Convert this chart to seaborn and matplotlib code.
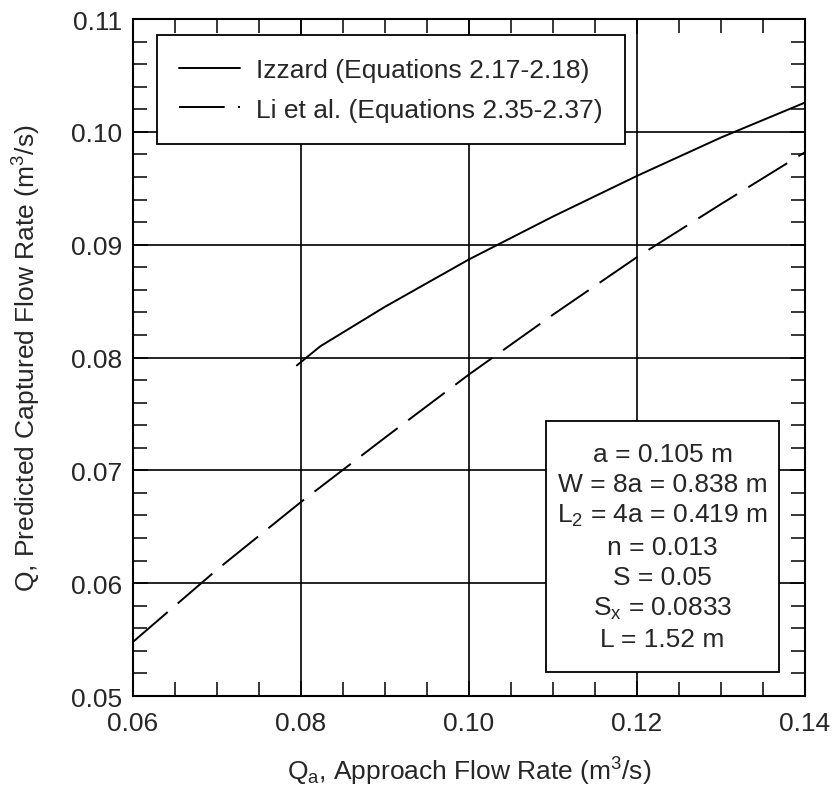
import numpy as np
import pandas as pd
import matplotlib
matplotlib.use("Agg")
import matplotlib.pyplot as plt
from matplotlib.patches import Rectangle
from matplotlib.ticker import MultipleLocator, FormatStrFormatter
import seaborn as sns

# --- DATA ---
izzard_qa = [0.0795, 0.0823, 0.090, 0.100, 0.110, 0.120, 0.130, 0.140]
izzard_q = [0.0793, 0.0810, 0.0845, 0.0887, 0.0925, 0.0961, 0.0995, 0.1026]

li_qa = [0.060, 0.070, 0.080, 0.090, 0.100, 0.110, 0.120, 0.130, 0.140]
li_q = [0.0548, 0.0612, 0.0672, 0.0729, 0.0785, 0.0838, 0.0889, 0.0936, 0.0982]

series_names = ["Izzard (Equations 2.17-2.18)", "Li et al. (Equations 2.35-2.37)"]
params = ["a = 0.105 m", "W = 8a = 0.838 m", "L$_2$ = 4a = 0.419 m",
          "n = 0.013", "S = 0.05", "S$_\\mathregular{x}$ = 0.0833", "L = 1.52 m"]

df = pd.concat([
    pd.DataFrame({"Qa": izzard_qa, "Q": izzard_q, "method": series_names[0]}),
    pd.DataFrame({"Qa": li_qa, "Q": li_q, "method": series_names[1]}),
])

FS = 19

sns.set_style("ticks")
plt.rcParams["font.family"] = ["Liberation Sans", "DejaVu Sans"]
plt.rcParams["mathtext.fontset"] = "custom"
plt.rcParams["mathtext.rm"] = "Liberation Sans"
plt.rcParams["mathtext.it"] = "Liberation Sans"
plt.rcParams["mathtext.default"] = "regular"

fig = plt.figure(figsize=(8.34, 8.03), dpi=100)
ax = fig.add_axes([0.1595, 0.132, 0.8057, 0.843])

sns.lineplot(data=df, x="Qa", y="Q", hue="method", style="method",
             palette=["black", "black"],
             dashes={series_names[0]: "", series_names[1]: (23.5, 6.8)},
             linewidth=1.4, ax=ax, legend=True, sort=False, zorder=3)

ax.set_xlim(0.06, 0.14)
ax.set_ylim(0.05, 0.11)
ax.xaxis.set_major_locator(MultipleLocator(0.02))
ax.xaxis.set_minor_locator(MultipleLocator(0.005))
ax.yaxis.set_major_locator(MultipleLocator(0.01))
ax.yaxis.set_minor_locator(MultipleLocator(0.002))
ax.xaxis.set_major_formatter(FormatStrFormatter("%.2f"))
ax.yaxis.set_major_formatter(FormatStrFormatter("%.2f"))
ax.tick_params(which="both", direction="in", top=True, right=True,
               labelsize=FS, color="black", width=1.1)
ax.tick_params(which="major", length=11, pad=8)
ax.tick_params(axis="x", which="major", pad=11)
ax.tick_params(which="minor", length=10)
ax.grid(True, which="major", color="black", linewidth=1.2, zorder=1)
for sp in ax.spines.values():
    sp.set_linewidth(1.5)
    sp.set_color("black")

ax.set_xlabel("Q$_a$, Approach Flow Rate (m$^3$/s)", fontsize=FS, labelpad=14)
ax.set_ylabel("Q, Predicted Captured Flow Rate (m$^3$/s)", fontsize=FS, labelpad=20)

handles, labels = ax.get_legend_handles_labels()
leg = ax.legend(handles, labels, loc="upper left", bbox_to_anchor=(0.0357, 0.976),
                fontsize=FS, frameon=True, fancybox=False, framealpha=1,
                edgecolor="black", handlelength=2.3, handletextpad=0.6,
                borderpad=0.85, labelspacing=0.6, borderaxespad=0)
leg.get_frame().set_linewidth(1.3)
leg.set_zorder(5)

# parameter box
ax.add_patch(Rectangle((0.6146, 0.0355), 0.3467, 0.3705, transform=ax.transAxes,
                       facecolor="white", edgecolor="black", linewidth=1.3, zorder=4))
ax.text(0.788, 0.2208, "\n".join(params), transform=ax.transAxes, ha="center",
        va="center", multialignment="center", fontsize=FS, linespacing=1.32,
        zorder=6)

fig.savefig("out.png", dpi=100)
